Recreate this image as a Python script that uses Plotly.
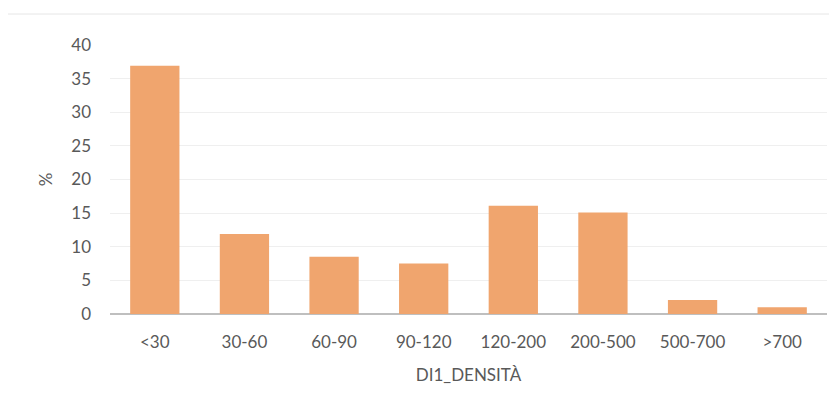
import plotly.graph_objects as go

categories = ["<30", "30-60", "60-90", "90-120", "120-200", "200-500", "500-700", ">700"]
values = [36.9, 11.9, 8.5, 7.5, 16.1, 15.1, 2.1, 1.0]
y_ticks = [0, 5, 10, 15, 20, 25, 30, 35, 40]

# page body has an 8px margin, so positions are offset by 8px
W, H = 837, 404
OFF = 8
L, R, T, B = 110 - OFF, 10 + OFF, 45 - OFF, 90 + OFF

fig = go.Figure(go.Bar(
    x=categories, y=values,
    marker=dict(color="#F0A56E", line=dict(width=0)),
    width=0.55,
))

pw = W - L - R
ph = H - T - B
fig.add_shape(type="rect", xref="paper", yref="paper",
              x0=(7 - OFF - L) / pw, x1=(W + 5 - L) / pw,
              y0=-(H + 5 - T - ph) / ph, y1=(H - (14 - OFF) - B) / ph,
              line=dict(color="#E6E6E6", width=1), fillcolor="rgba(0,0,0,0)", layer="below")

font = dict(family="Lato, Open Sans, sans-serif", size=17, color="#595959")
fig.update_layout(
    width=W, height=H,
    margin=dict(l=L, r=R, t=T, b=B),
    plot_bgcolor="white", paper_bgcolor="white",
    showlegend=False,
    font=font,
    xaxis=dict(
        title=dict(text="DI1_DENSITÀ", font=font, standoff=18),
        showgrid=False, showline=False, ticks="", tickfont=font,
        zeroline=False, ticklabelstandoff=16,
    ),
    yaxis=dict(
        title=dict(text="%", font=font, standoff=14),
        range=[0, 40], tickvals=y_ticks, tickfont=font,
        showgrid=True, gridcolor="#EFEFEF", gridwidth=1,
        zeroline=True, zerolinecolor="#BFBFBF", zerolinewidth=2,
        showline=False, ticks="", ticklabelstandoff=18,
    ),
)

fig.write_html("out.html")
